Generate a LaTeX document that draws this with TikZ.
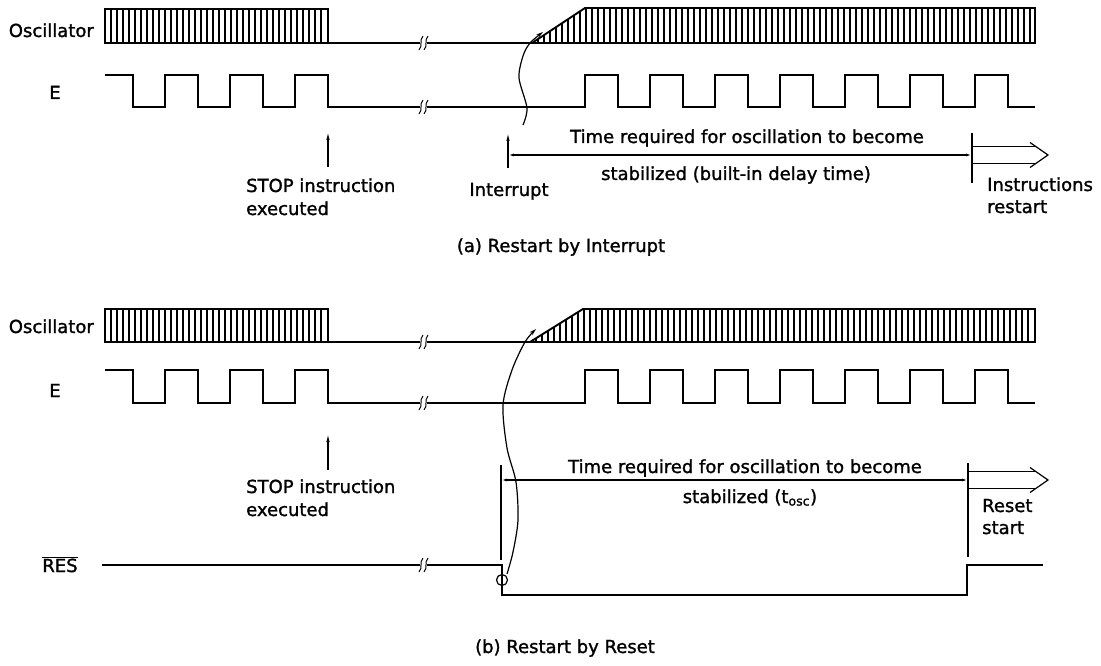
\documentclass[tikz,border=0pt]{standalone}
\usepackage{fontspec}
\setmainfont{DejaVu Sans}[FakeBold=1.4]
\usetikzlibrary{arrows.meta,positioning}

\begin{document}
\begin{tikzpicture}[x=1pt,y=-1pt,
wave/.style={line width=1.9pt},
hatch/.style={line width=1.6pt},
thin/.style={line width=1.2pt},
ptr/.style={thin,-{Latex[length=8pt,width=3.5pt]}},
dim/.style={thin,{Latex[length=6pt,width=3pt]}-{Latex[length=6pt,width=3pt]}},
lbl/.style={font=\fontsize{18}{22}\selectfont, inner sep=0pt},
brk/.pic={\draw[line width=1pt] (-4.5,7) .. controls (-0.5,3) and (-4.5,-3) .. (-0.5,-7);
  \draw[line width=1pt] (0.5,7) .. controls (4.5,3) and (0.5,-3) .. (4.5,-7);}
]
\useasboundingbox (0,0) rectangle (1101,666);

% ---- (a) restart by interrupt ----
\node[lbl, anchor=base east] (oscA) at (94,37) {Oscillator};
\draw[wave] (105,9) rectangle (328,43);
\foreach \x in {111,117,...,323} \draw[hatch] (\x,9) -- (\x,43);
\draw[wave] (328,43) -- (420,43);
\draw[wave] (427,43) -- (1035,43) -- (1035,8) -- (585,8) -- (532,43);
\foreach \x in {538,544,...,1030} {
  \pgfmathsetmacro\yt{max(8,43-(\x-532)/53*35)}
  \draw[hatch] (\x,\yt) -- (\x,43);
}
\pic at (423.5,43) {brk};

\node[lbl, anchor=base] (eA) at (55,99) {E};
\draw[wave] (105,75) \foreach \x in {133,198,263} {-- (\x,75) -- (\x,107) -- ({\x+32},107) -- ({\x+32},75)} -- (328,75) -- (328,107) -- (420,107);
\draw[wave] (427,107) \foreach \x in {585,650,...,975} {-- (\x,107) -- (\x,75) -- ({\x+33},75) -- ({\x+33},107)} -- (1035,107);
\pic at (423.5,107) {brk};

\draw[thin,-{Stealth[length=7pt,width=4pt]}] plot[smooth] coordinates {(523,125) (527,108) (519,78) (523,56) (530,43) (543,32)};

\coordinate (stopTipA) at (328,132);
\coordinate (stopEndA) at (328,167);
\draw[ptr] (stopEndA) -- (stopTipA);
\node[lbl, anchor=base west] (stopA) at (246,192) {STOP instruction};
\node[lbl, anchor=base west] (execA) at ([yshift=-23pt]stopA.base west) {executed};

\coordinate (intTipA) at (508,133);
\coordinate (intEndA) at (508,168);
\draw[ptr] (intEndA) -- (intTipA);
\node[lbl, anchor=base] (intA) at (509,196) {Interrupt};

\coordinate (goA) at (972,155);
\draw[thin] (972,133) -- (972,183);
\draw[dim] (intEndA |- goA) -- (goA);
\node[lbl, anchor=base] (timeA) at (747,143) {Time required for oscillation to become};
\node[lbl, anchor=base] (stabA) at (736,180) {stabilized (built-in delay time)};
\draw[thin] (goA) ++(0,-8.5) -- ++(64,0) (goA) ++(0,8.5) -- ++(64,0);
\draw[thin] (goA) ++(58,-12.5) -- ++(18,12.5) -- ++(-18,12.5);
\node[lbl, anchor=base west] (instrA) at (987,191) {Instructions};
\node[lbl, anchor=base west] (rstA) at ([yshift=-22pt]instrA.base west) {restart};

\node[lbl, anchor=base] (capA) at (561,252) {(a) Restart by Interrupt};

% ---- (b) restart by reset ----
\node[lbl, anchor=base east] (oscB) at (94,333) {Oscillator};
\draw[wave] (105,309) rectangle (328,342);
\foreach \x in {111,117,...,323} \draw[hatch] (\x,309) -- (\x,342);
\draw[wave] (328,342) -- (420,342);
\draw[wave] (427,342) -- (1035,342) -- (1035,309) -- (583,309) -- (530,342);
\foreach \x in {536,542,...,1030} {
  \pgfmathsetmacro\yt{max(309,342-(\x-530)/53*33)}
  \draw[hatch] (\x,\yt) -- (\x,342);
}
\pic at (423.5,342) {brk};

\node[lbl, anchor=base] (eB) at (55,397) {E};
\draw[wave] (105,370) \foreach \x in {133,198,263} {-- (\x,370) -- (\x,403) -- ({\x+32},403) -- ({\x+32},370)} -- (328,370) -- (328,403) -- (420,403);
\draw[wave] (427,403) \foreach \x in {585,650,...,975} {-- (\x,403) -- (\x,370) -- ({\x+33},370) -- ({\x+33},403)} -- (1035,403);
\pic at (423.5,403) {brk};

\coordinate (stopTipB) at (328,434);
\coordinate (stopEndB) at (328,470);
\draw[ptr] (stopEndB) -- (stopTipB);
\node[lbl, anchor=base west] (stopB) at (246,493) {STOP instruction};
\node[lbl, anchor=base west] (execB) at ([yshift=-23pt]stopB.base west) {executed};

\node[lbl, anchor=base] (resB) at (60,572) {$\overline{\hbox{RES}}$};
\draw[wave] (102,565) -- (420,565);
\draw[wave] (427,565) -- (502,565) -- (502,595) -- (967,595) -- (967,565) -- (1043,565);
\pic at (423.5,565) {brk};
\draw[thin] (502,580) circle (5.5);

\draw[thin,-{Stealth[length=7pt,width=4pt]}] plot[smooth] coordinates {(507,574) (513,552) (518,520) (516,482) (507,448) (503,405) (512,370) (525,342) (536,329)};

\coordinate (fromB) at (501,480);
\coordinate (goB) at (968,480);
\draw[thin] (501,465) -- (501,560);
\draw[thin] (968,463) -- (968,557);
\draw[dim] (fromB) -- (goB);
\node[lbl, anchor=base] (timeB) at (745,473) {Time required for oscillation to become};
\node[lbl, anchor=base] (stabB) at (750,503) {stabilized (t\textsubscript{osc})};
\draw[thin] (goB) ++(0,-8.5) -- ++(68,0) (goB) ++(0,8.5) -- ++(68,0);
\draw[thin] (goB) ++(62,-12.5) -- ++(18,12.5) -- ++(-18,12.5);
\node[lbl, anchor=base west] (resetB) at (982,512) {Reset};
\node[lbl, anchor=base west] (startB) at ([yshift=-22pt]resetB.base west) {start};

\node[lbl, anchor=base] (capB) at (565,653) {(b) Restart by Reset};
\end{tikzpicture}
\end{document}
